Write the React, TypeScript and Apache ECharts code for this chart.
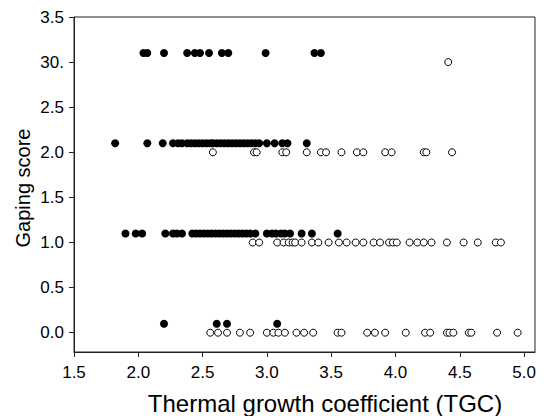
import React, { useEffect, useRef } from "react";
import * as echarts from "echarts";

// Filled circles (TGC values) at each gaping level (offset slightly above)
const filledLevels = [3.1, 2.1, 1.1, 0.1];
const filledRow3 = [2.04, 2.07, 2.2, 2.38, 2.44, 2.48, 2.55, 2.65, 2.7, 2.99, 3.37, 3.42];
const filledRow2 = [1.82, 2.07, 2.19, 2.27, 2.31, 2.34, 2.38, 2.41, 2.44, 2.47, 2.5, 2.53, 2.56, 2.58, 2.61, 2.64, 2.67, 2.7, 2.73, 2.76, 2.79, 2.82, 2.85, 2.88, 2.91, 2.94, 3.0, 3.06, 3.12, 3.16, 3.31];
const filledRow1 = [1.9, 1.98, 2.03, 2.21, 2.27, 2.3, 2.34, 2.42, 2.45, 2.48, 2.51, 2.54, 2.57, 2.6, 2.63, 2.66, 2.69, 2.72, 2.75, 2.78, 2.81, 2.84, 2.87, 2.91, 3.0, 3.04, 3.07, 3.11, 3.14, 3.18, 3.27, 3.35, 3.55];
const filledRow0 = [2.2, 2.61, 2.69, 3.08];

// Open circles (TGC values) at each gaping level
const openLevels = [3.0, 2.0, 1.0, 0.0];
const openRow3 = [4.41];
const openRow2 = [2.58, 2.9, 2.92, 3.12, 3.15, 3.31, 3.42, 3.46, 3.58, 3.7, 3.75, 3.92, 3.97, 4.22, 4.24, 4.44];
const openRow1 = [2.89, 2.94, 3.08, 3.13, 3.17, 3.2, 3.22, 3.27, 3.35, 3.4, 3.48, 3.56, 3.62, 3.69, 3.75, 3.83, 3.88, 3.95, 3.98, 4.01, 4.11, 4.17, 4.22, 4.28, 4.4, 4.53, 4.64, 4.78, 4.82];
const openRow0 = [2.56, 2.62, 2.69, 2.79, 2.87, 3.0, 3.05, 3.09, 3.14, 3.23, 3.29, 3.36, 3.55, 3.58, 3.78, 3.84, 3.92, 4.08, 4.23, 4.27, 4.4, 4.42, 4.45, 4.57, 4.59, 4.79, 4.95];

const xTicks = [1.5, 2.0, 2.5, 3.0, 3.5, 4.0, 4.5, 5.0];
const xTickLabels = ["1.5", "2.0", "2.5", "3.0", "3.5", "4.0", "4.5", "5.0"];
const yTicks = [0, 0.5, 1.0, 1.5, 2.0, 2.5, 3.0, 3.5];
const yTickLabels = ["0.0", "0.5", "1.0", "1.5", "2.0", "2.5", "30.", "3.5"];

const xTitle = "Thermal growth coefficient (TGC)";
const yTitle = "Gaping score";

export default function App() {
  const ref = useRef<HTMLDivElement>(null);
  useEffect(() => {
    if (!ref.current) return;
    const chart = echarts.init(ref.current, null, { renderer: "svg" });
    const filledRows = [filledRow3, filledRow2, filledRow1, filledRow0];
    const openRows = [openRow3, openRow2, openRow1, openRow0];
    const filledData: number[][] = [];
    filledRows.forEach((row, i) => row.forEach((x) => filledData.push([x, filledLevels[i]])));
    const openData: number[][] = [];
    openRows.forEach((row, i) => row.forEach((x) => openData.push([x, openLevels[i]])));

    const font = "'Liberation Sans', Arial, sans-serif";
    const lineColor = "#222";
    chart.setOption({
      animation: false,
      backgroundColor: "#fff",
      grid: {
        left: 74,
        top: 17,
        right: 12,
        bottom: 64,
        show: true,
        borderColor: lineColor,
        borderWidth: 1,
      },
      xAxis: {
        type: "value",
        min: 1.5,
        max: 5.085,
        axisLine: { show: true, onZero: false, lineStyle: { color: lineColor, width: 1 } },
        axisTick: { show: true, length: 5, customValues: xTicks, lineStyle: { color: lineColor } },
        axisLabel: {
          customValues: xTicks,
          margin: 12,
          fontSize: 17,
          fontFamily: font,
          color: "#000",
          formatter: (v: number) => {
            const i = xTicks.findIndex((t) => Math.abs(t - v) < 1e-6);
            return i >= 0 ? xTickLabels[i] : "";
          },
        },
        splitLine: { show: false },
      },
      yAxis: {
        type: "value",
        min: -0.214,
        max: 3.5,
        axisLine: { show: true, onZero: false, lineStyle: { color: lineColor, width: 1 } },
        axisTick: { show: true, length: 5, customValues: yTicks, lineStyle: { color: lineColor } },
        axisLabel: {
          customValues: yTicks,
          margin: 10,
          fontSize: 17,
          fontFamily: font,
          color: "#000",
          formatter: (v: number) => {
            const i = yTicks.findIndex((t) => Math.abs(t - v) < 1e-6);
            return i >= 0 ? yTickLabels[i] : "";
          },
        },
        splitLine: { show: false },
      },
      graphic: [
        {
          type: "text",
          x: 325,
          y: 403,
          style: {
            text: xTitle,
            fontSize: 24,
            fontFamily: font,
            fill: "#000",
            textAlign: "center",
            textVerticalAlign: "middle",
          },
        },
        {
          type: "text",
          x: 23,
          y: 188,
          rotation: Math.PI / 2,
          style: {
            text: yTitle,
            fontSize: 20,
            fontFamily: font,
            fill: "#000",
            textAlign: "center",
            textVerticalAlign: "middle",
          },
        },
      ],
      series: [
        {
          type: "scatter",
          data: filledData,
          symbol: "circle",
          symbolSize: 8,
          itemStyle: { color: "#000", borderWidth: 0, opacity: 1 },
          z: 2,
        },
        {
          type: "scatter",
          data: openData,
          symbol: "circle",
          symbolSize: 7,
          itemStyle: { color: "#fff", borderColor: "#000", borderWidth: 1, opacity: 1 },
          z: 3,
        },
      ],
    });
    return () => chart.dispose();
  }, []);
  return (
    <div
      ref={ref}
      style={{ position: "absolute", left: 0, top: 0, width: 547, height: 416 }}
    />
  );
}
